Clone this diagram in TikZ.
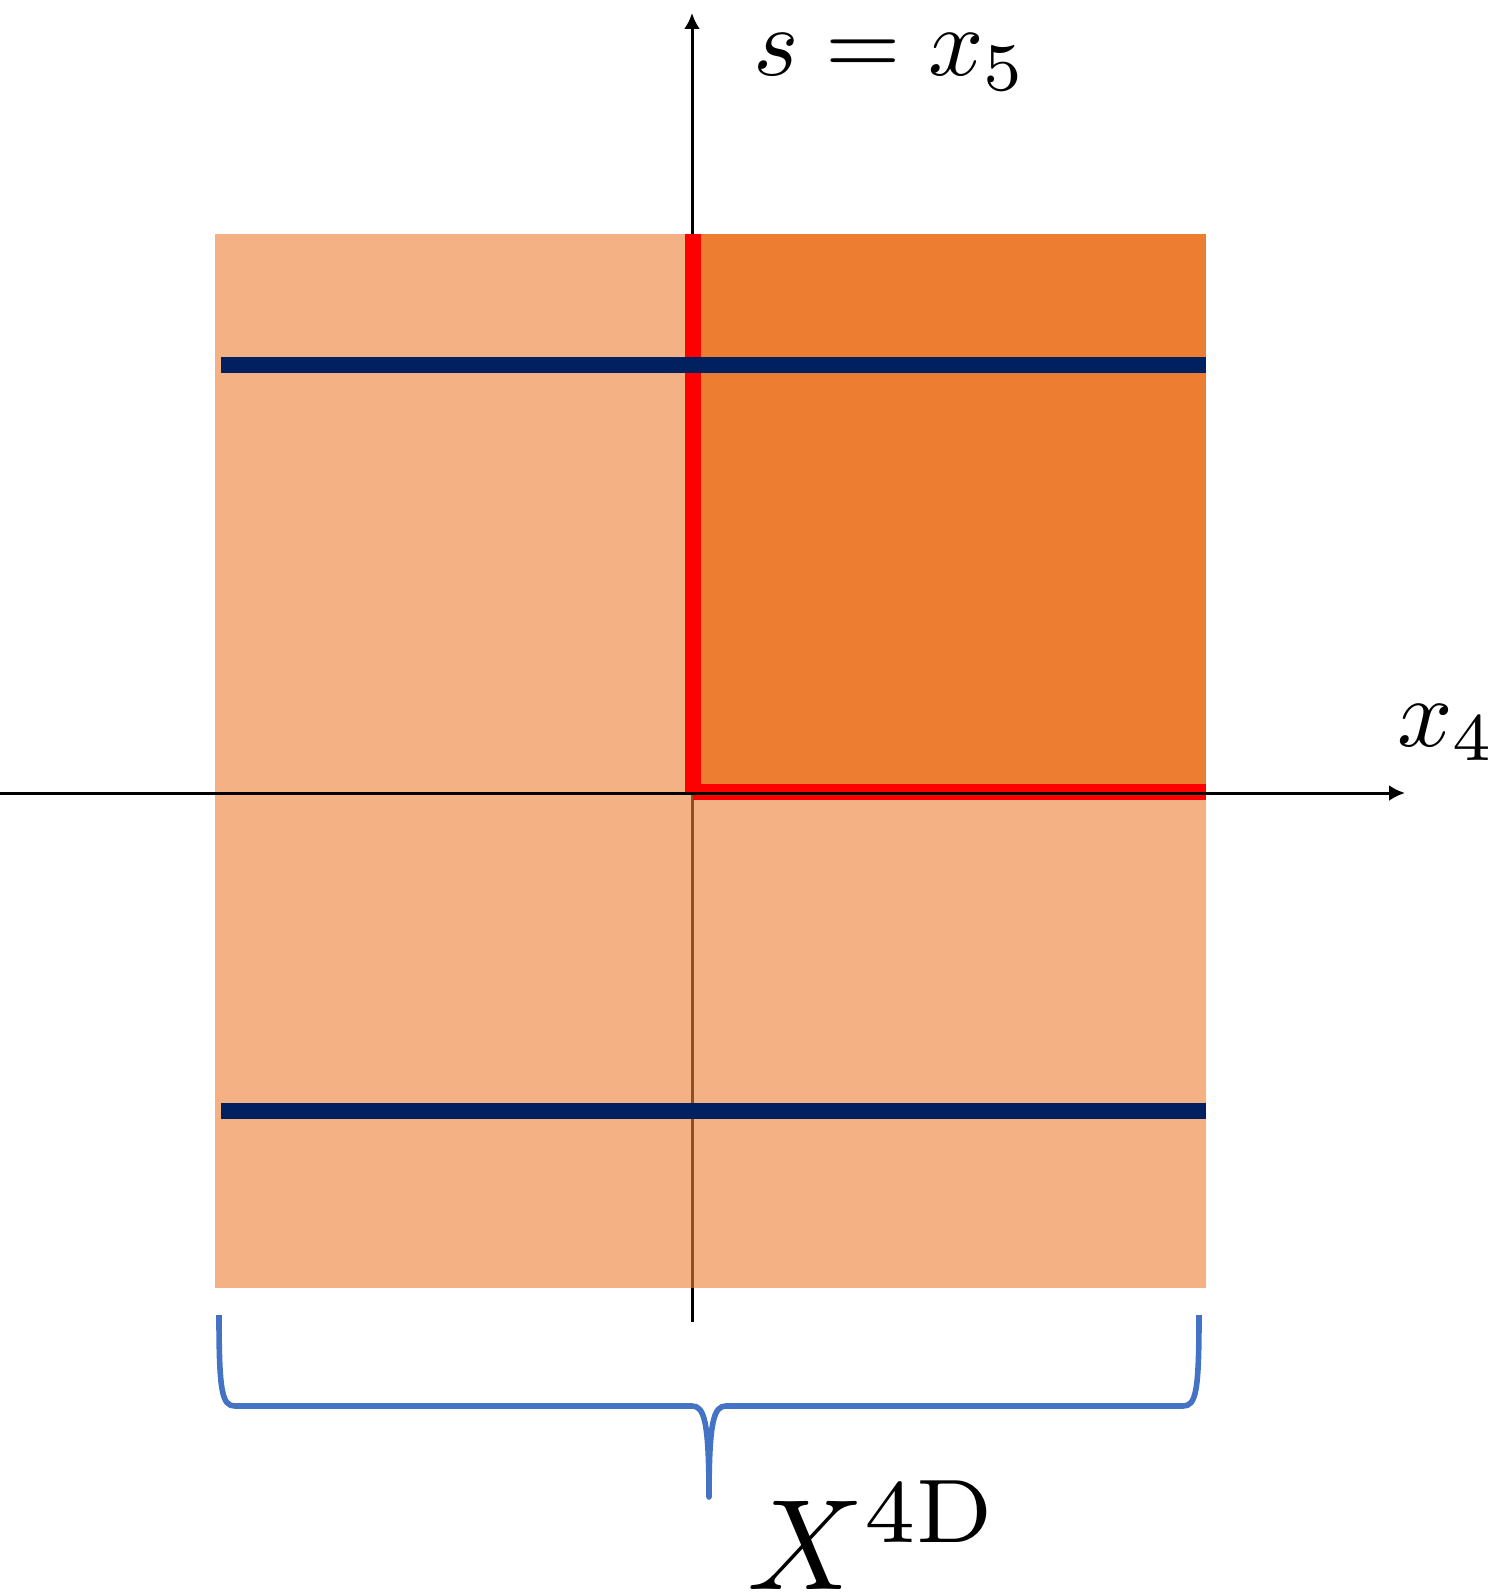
\documentclass[tikz,border=0pt]{standalone}
\usepackage{graphicx}
\usetikzlibrary{arrows.meta}
\definecolor{lightor}{HTML}{F4B183}
\definecolor{darkor}{HTML}{ED7D31}
\definecolor{navyline}{HTML}{002060}
\definecolor{bracebl}{HTML}{4472C4}
\definecolor{axbrown}{RGB}{140,80,40}
\begin{document}
\begin{tikzpicture}[x=0.5pt,y=-0.5pt,
  axis/.style={line width=1.5pt,black,-{Latex[length=8pt,width=8pt]}},
  navybar/.style={line width=8pt,navyline},
  lbl/.style={inner sep=0pt,anchor=base west},
  bracestyle/.style={line width=2.8pt,bracebl,line join=round}]
\useasboundingbox (0,0) rectangle (1492,1595);
% regions
\fill[lightor] (215,234) rectangle (1206,1288);
\fill[darkor] (701,234) rectangle (1206,784);
% coordinates
\coordinate (xs) at (0,793);
\coordinate (xe) at (1405,793);
\coordinate (ys) at (692,1322);
\coordinate (ye) at (692,13);
\coordinate (yb1) at (692,795);
\coordinate (yb2) at (692,1288);
% vertical axis
\draw[axis] (ys) -- (ye);
\draw[line width=1.5pt,axbrown] (yb1) -- (yb2);
% red boundary
\fill[red] (685,234) rectangle (701,792);
\fill[red] (693,784) rectangle (1206,800);
% navy lines
\coordinate (n1a) at (221,365); \coordinate (n1b) at (1206,365);
\coordinate (n2a) at (221,1111); \coordinate (n2b) at (1206,1111);
\draw[navybar] (n1a) -- (n1b);
\draw[navybar] (n2a) -- (n2b);
% horizontal axis
\draw[axis] (xs) -- (xe);
% labels
\node[lbl] (slabel) at (753,76) {\scalebox{4.85}{$s = x_5$}};
\node[lbl] (xlabel) at (1397,746) {\scalebox{4.85}{$x_4$}};
% brace
\draw[bracestyle] (219,1315) .. controls (219,1392) and (222,1406) .. (235,1406)
  -- (692,1406) .. controls (704,1406) and (709,1420) .. (709,1497)
  .. controls (709,1420) and (714,1406) .. (726,1406)
  -- (1183,1406) .. controls (1196,1406) and (1199,1392) .. (1199,1315);
\node[lbl] (Xlabel) at (747,1589) {\scalebox{6.45}{$X^{\mathrm{4D}}$}};
\end{tikzpicture}
\end{document}
